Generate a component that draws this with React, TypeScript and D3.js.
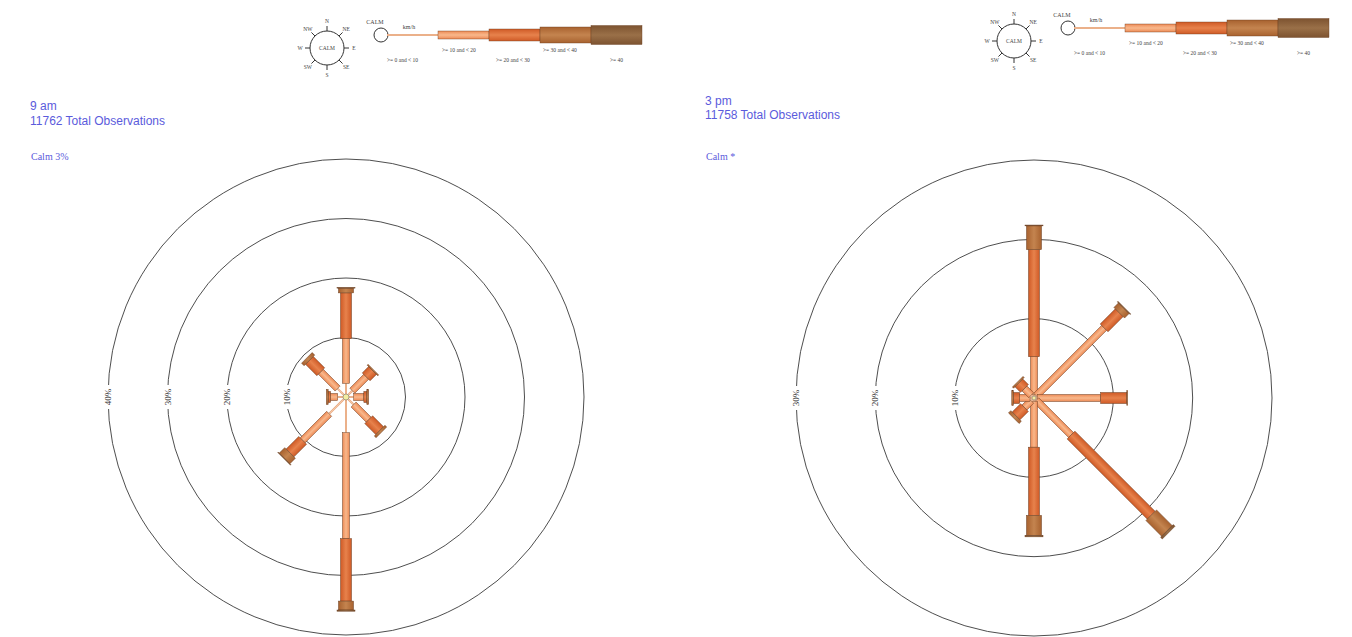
import React from "react";
import * as d3 from "d3";

const DIRS = ["N", "NE", "E", "SE", "S", "SW", "W", "NW"];
const SPEED_LABELS = [">= 0 and < 10", ">= 10 and < 20", ">= 20 and < 30", ">= 30 and < 40", ">= 40"];

// 9 am — percentage of observations per direction, per speed class (km/h)
const am9_0_10 = [2.3, 1.5, 1.3, 1.8, 6.0, 4.0, 1.4, 2.0];
const am9_10_20 = [7.5, 3.3, 1.7, 3.6, 17.8, 6.3, 1.2, 4.0];
const am9_20_30 = [7.7, 1.5, 0.5, 2.6, 10.5, 3.0, 0.4, 2.7];
const am9_30_40 = [0.8, 0.2, 0.3, 0.4, 1.5, 1.3, 0.3, 0.6];
const am9_40 = [0.1, 0, 0, 0, 0.2, 0.1, 0, 0];

// 3 pm
const pm3_0_10 = [0.4, 0.4, 0.4, 0.4, 0.4, 0.5, 0.5, 0.5];
const pm3_10_20 = [4.8, 12.1, 8.0, 6.2, 5.8, 1.2, 1.3, 1.2];
const pm3_20_30 = [13.5, 2.7, 3.3, 14.3, 8.6, 1.5, 0.8, 1.0];
const pm3_30_40 = [3.0, 0.8, 0.1, 2.8, 2.5, 0.4, 0.2, 0.2];
const pm3_40 = [0.1, 0.1, 0, 0.3, 0.2, 0, 0, 0];

const am9Rings = [10, 20, 30, 40];
const pm3Rings = [10, 20, 30];

const CLASS_WIDTHS = [2, 7, 11, 15, 18];
const CLASS_COLORS = [
  ["#e09a70", "#f6c7a4", "#e09a70"],
  ["#ee8a55", "#f8b88c", "#ee8a55"],
  ["#cf5a26", "#e7824c", "#cf5a26"],
  ["#a8622f", "#c4844f", "#a8622f"],
  ["#7d5330", "#9a7048", "#7d5330"],
];

const BLUE = "#5b5bdc";

type RoseProps = {
  id: string;
  cx: number;
  cy: number;
  maxPct: number;
  maxR: number;
  rings: number[];
  classes: number[][];
  calmR: number;
};

function Rose({ id, cx, cy, maxPct, maxR, rings, classes, calmR }: RoseProps) {
  const r = d3.scaleLinear().domain([0, maxPct]).range([0, maxR]);
  return (
    <g transform={`translate(${cx},${cy})`}>
      {rings.map((p) => (
        <circle key={p} r={r(p)} fill="none" stroke="#3a3a3a" strokeWidth={0.9} />
      ))}
      {rings.map((p) => (
        <g key={"l" + p} transform={`translate(${-r(p)},0) rotate(-90)`}>
          <rect x={-12} y={-6} width={24} height={12} fill="#fff" />
          <text
            textAnchor="middle"
            dy="0.35em"
            fontSize={9}
            fontFamily="Liberation Serif, serif"
            fill="#333"
          >
            {p}%
          </text>
        </g>
      ))}
      {DIRS.map((d, i) => {
        let cum = 0;
        return (
          <g key={d} transform={`rotate(${i * 45})`}>
            {classes.map((vals, k) => {
              const v = vals[i];
              const start = cum;
              cum += v;
              if (v <= 0) return null;
              const w = CLASS_WIDTHS[k];
              const y0 = r(start);
              const y1 = r(cum);
              return (
                <rect
                  key={k}
                  x={-w / 2}
                  y={-y1}
                  width={w}
                  height={y1 - y0}
                  fill={`url(#${id}-g${k})`}
                  stroke={k === 0 ? "none" : "#6b3f22"}
                  strokeWidth={0.5}
                />
              );
            })}
          </g>
        );
      })}
      <circle r={calmR} fill="#f3eea0" stroke="#777" strokeWidth={0.6} />
    </g>
  );
}

function Legend({ x0, y0 }: { x0: number; y0: number }) {
  const xs = d3.scaleLinear().domain([0, 5]).range([x0 + 6, x0 + 6 + 5 * 51]);
  const compX = x0 - 54;
  const compY = y0 + 13;
  const cr = 17;
  const labelOffsets = [
    [0, 27],
    [4, 17],
    [7, 27],
    [3, 17],
    [19, 27],
  ];
  return (
    <g fontFamily="Liberation Serif, serif" fill="#444">
      <circle cx={compX} cy={compY} r={cr} fill="#fff" stroke="#333" strokeWidth={1} />
      <text x={compX} y={compY} dy="0.35em" textAnchor="middle" fontSize={5.5}>
        CALM
      </text>
      {DIRS.map((d, i) => {
        const a = (i * 45 * Math.PI) / 180;
        const sx = Math.sin(a);
        const sy = -Math.cos(a);
        return (
          <g key={d}>
            <line
              x1={compX + sx * cr}
              y1={compY + sy * cr}
              x2={compX + sx * (cr + 5)}
              y2={compY + sy * (cr + 5)}
              stroke="#333"
              strokeWidth={1}
            />
            <text
              x={compX + sx * (cr + 10)}
              y={compY + sy * (cr + 10)}
              dy="0.35em"
              textAnchor="middle"
              fontSize={5.5}
            >
              {d}
            </text>
          </g>
        );
      })}
      <circle cx={x0} cy={y0} r={7} fill="#fff" stroke="#333" strokeWidth={1} />
      <text x={x0 - 6} y={y0 - 11} textAnchor="middle" fontSize={6}>
        CALM
      </text>
      <text x={x0 + 28} y={y0 - 6} textAnchor="middle" fontSize={6}>
        km/h
      </text>
      {SPEED_LABELS.map((lab, k) => {
        const w = k === 0 ? 2 : CLASS_WIDTHS[k] + 1;
        return (
          <g key={lab}>
            <rect
              x={xs(k)}
              y={y0 - w / 2}
              width={xs(k + 1) - xs(k)}
              height={w}
              fill={`url(#leg-g${k})`}
              stroke={k === 0 ? "none" : "#6b3f22"}
              strokeWidth={0.4}
            />
            <text x={xs(k) + labelOffsets[k][0]} y={y0 + labelOffsets[k][1]} fontSize={5.5}>
              {lab}
            </text>
          </g>
        );
      })}
    </g>
  );
}

function Grads({ id }: { id: string }) {
  return (
    <>
      {CLASS_COLORS.map((c, k) => (
        <linearGradient key={k} id={`${id}-g${k}`} x1="0" x2="1" y1="0" y2="0">
          <stop offset="0%" stopColor={c[0]} />
          <stop offset="50%" stopColor={c[1]} />
          <stop offset="100%" stopColor={c[2]} />
        </linearGradient>
      ))}
    </>
  );
}

function LegendGrads() {
  return (
    <>
      {CLASS_COLORS.map((c, k) => (
        <linearGradient key={"v" + k} id={`leg-g${k}`} x1="0" x2="0" y1="0" y2="1">
          <stop offset="0%" stopColor={c[0]} />
          <stop offset="50%" stopColor={c[1]} />
          <stop offset="100%" stopColor={c[2]} />
        </linearGradient>
      ))}
    </>
  );
}

export default function App() {
  const am9 = [am9_0_10, am9_10_20, am9_20_30, am9_30_40, am9_40];
  const pm3 = [pm3_0_10, pm3_10_20, pm3_20_30, pm3_30_40, pm3_40];
  return (
    <div style={{ position: "absolute", left: 0, top: 0 }}>
      <svg width={1352} height={637} style={{ display: "block", background: "#fff" }}>
        <defs>
          <Grads id="am" />
          <Grads id="pm" />
          <LegendGrads />
        </defs>
        <Legend x0={381} y0={35} />
        <Legend x0={1068} y0={28} />

        <g fontFamily="Liberation Sans, Arial, sans-serif" fontSize={12} fill={BLUE}>
          <text x={30} y={110}>9 am</text>
          <text x={30} y={125}>11762 Total Observations</text>
          <text x={705} y={105}>3 pm</text>
          <text x={705} y={119}>11758 Total Observations</text>
        </g>
        <g fontFamily="Liberation Serif, serif" fontSize={10} fill={BLUE}>
          <text x={31} y={160}>Calm 3%</text>
          <text x={706} y={160}>Calm *</text>
        </g>

        <Rose id="am" cx={346} cy={397} maxPct={40} maxR={238} rings={am9Rings} classes={am9} calmR={3} />
        <Rose id="pm" cx={1034} cy={398} maxPct={30} maxR={238} rings={pm3Rings} classes={pm3} calmR={2} />
      </svg>
    </div>
  );
}
